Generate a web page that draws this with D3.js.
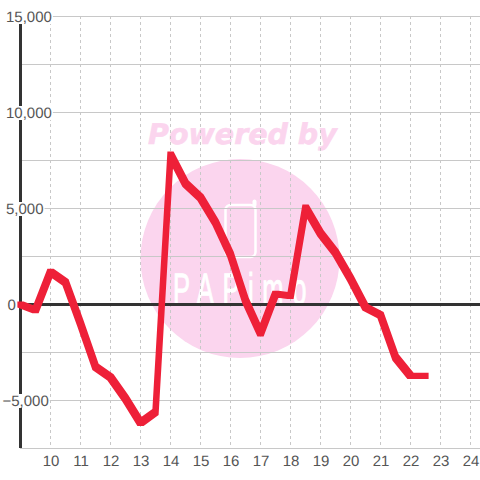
<!DOCTYPE html>
<html>
<head>
<meta charset="utf-8">
<script src="https://cdn.jsdelivr.net/npm/d3@7"></script>
<style>
  html, body { margin: 0; padding: 0; background: #fff; }
  svg { display: block; text-rendering: geometricPrecision; }
</style>
</head>
<body>
<svg width="480" height="480"></svg>
<script>
// Values
const hours = [9, 9.5, 10, 10.5, 11, 11.5, 12, 12.5, 13, 13.5, 14, 14.5, 15, 15.5, 16, 16.5, 17, 17.5, 18, 18.5, 19, 19.5, 20, 20.5, 21, 21.5, 22, 22.5];
const values = [0, -300, 1700, 1150, -1000, -3250, -3800, -4900, -6170, -5600, 7810, 6300, 5570, 4270, 2600, 200, -1510, 550, 450, 5050, 3700, 2700, 1350, -150, -550, -2750, -3720, -3720];
const xTicks = [10, 11, 12, 13, 14, 15, 16, 17, 18, 19, 20, 21, 22, 23, 24];
const yLabelTicks = [15000, 10000, 5000, 0, -5000];
const yGridTicks = [15000, 12500, 10000, 7500, 5000, 2500, -2500, -5000, -7500];

const svg = d3.select('svg');

const x = d3.scaleLinear().domain([9, 24]).range([20.5, 470.5]);
const y = d3.scaleLinear().domain([15000, -7500]).range([16, 448]);

// Watermark
svg.append('circle')
    .attr('cx', 240)
    .attr('cy', 258.5)
    .attr('r', 99.5)
    .attr('fill', '#fbd5ee');

svg.append('text')
    .attr('x', 148)
    .attr('y', 143.5)
    .attr('font-family', 'DejaVu Sans')
    .attr('font-weight', 'bold')
    .attr('font-style', 'italic')
    .attr('font-size', 28.5)
    .attr('fill', '#fbd5ee')
    .attr('stroke', '#fbd5ee')
    .attr('stroke-width', 0.6)
    .text('Powered by');

svg.append('rect')
    .attr('x', 225.5)
    .attr('y', 205)
    .attr('width', 30)
    .attr('height', 52)
    .attr('rx', 5)
    .attr('fill', 'none')
    .attr('stroke', '#fff')
    .attr('stroke-width', 2.5);

svg.append('path')
    .attr('d', 'M254.5 205V201.5')
    .attr('stroke', '#fff')
    .attr('stroke-width', 4)
    .attr('stroke-linecap', 'round');

// Logo lettering, squeezed sideways to get the tall thin look
svg.append('text')
    .attr('transform', 'translate(173,304) scale(0.58,1)')
    .attr('font-family', 'Liberation Sans')
    .attr('font-size', 44)
    .attr('fill', '#fff')
    .attr('stroke', '#fff')
    .attr('stroke-width', 1)
    .attr('textLength', 230)
    .text('PAPimo');

// Dashed vertical grid
svg.append('g')
    .selectAll('line')
    .data(xTicks)
    .join('line')
    .attr('x1', d => x(d))
    .attr('x2', d => x(d))
    .attr('y1', y(15000))
    .attr('y2', y(-7500))
    .attr('stroke', '#c8c8c8')
    .attr('stroke-dasharray', '3,3');

// Horizontal grid
svg.append('g')
    .selectAll('line')
    .data(yGridTicks)
    .join('line')
    .attr('x1', 20)
    .attr('x2', 480)
    .attr('y1', d => Math.round(y(d)) + 0.5)
    .attr('y2', d => Math.round(y(d)) + 0.5)
    .attr('stroke', '#c8c8c8');

// Axis lines
svg.append('line')
    .attr('x1', 20.5)
    .attr('x2', 20.5)
    .attr('y1', y(15000))
    .attr('y2', y(-7500))
    .attr('stroke', '#333')
    .attr('stroke-width', 3);

svg.append('line')
    .attr('x1', 20)
    .attr('x2', 480)
    .attr('y1', y(0) + 0.5)
    .attr('y2', y(0) + 0.5)
    .attr('stroke', '#333')
    .attr('stroke-width', 3);

// Series line: the original pen is square, so diagonals come out thicker.
// Each segment is the hull of a small square swept between its two points.
const pen = 3.1;
const corners = (px, py) => [[px - pen, py - pen], [px + pen, py - pen], [px + pen, py + pen], [px - pen, py + pen]];

const segments = d3.pairs(values.map((v, i) => [x(hours[i]), y(v) + 0.5]))
    .map(([a, b]) => d3.polygonHull([...corners(a[0], a[1]), ...corners(b[0], b[1])]));

svg.append('path')
    .attr('d', segments.map(s => d3.line()(s) + 'Z').join(''))
    .attr('fill', '#ee2038');

// Y labels sit on a white box that cuts the axis
const labelStart = t => (t < 0 ? 2.5 : t === 0 ? 7.5 : 6);
const yLabels = svg.append('g');
yLabelTicks.forEach(t => {
    const label = yLabels.append('text')
        .attr('x', labelStart(t))
        .attr('y', y(t) + 6)
        .attr('font-family', 'Liberation Sans')
        .attr('font-size', 15)
        .attr('fill', '#555')
        .text(d3.format(',')(t));
    const box = label.node().getBBox();
    yLabels.insert('rect', 'text')
        .attr('x', box.x)
        .attr('y', y(t) - 6)
        .attr('width', box.width + 1)
        .attr('height', 14)
        .attr('fill', '#fff');
});

// X labels
svg.append('g')
    .selectAll('text')
    .data(xTicks)
    .join('text')
    .attr('x', d => x(d) + 0.5)
    .attr('y', 466)
    .attr('text-anchor', 'middle')
    .attr('font-family', 'Liberation Sans')
    .attr('font-size', 15)
    .attr('fill', '#555')
    .text(d => d);
</script>
</body>
</html>
